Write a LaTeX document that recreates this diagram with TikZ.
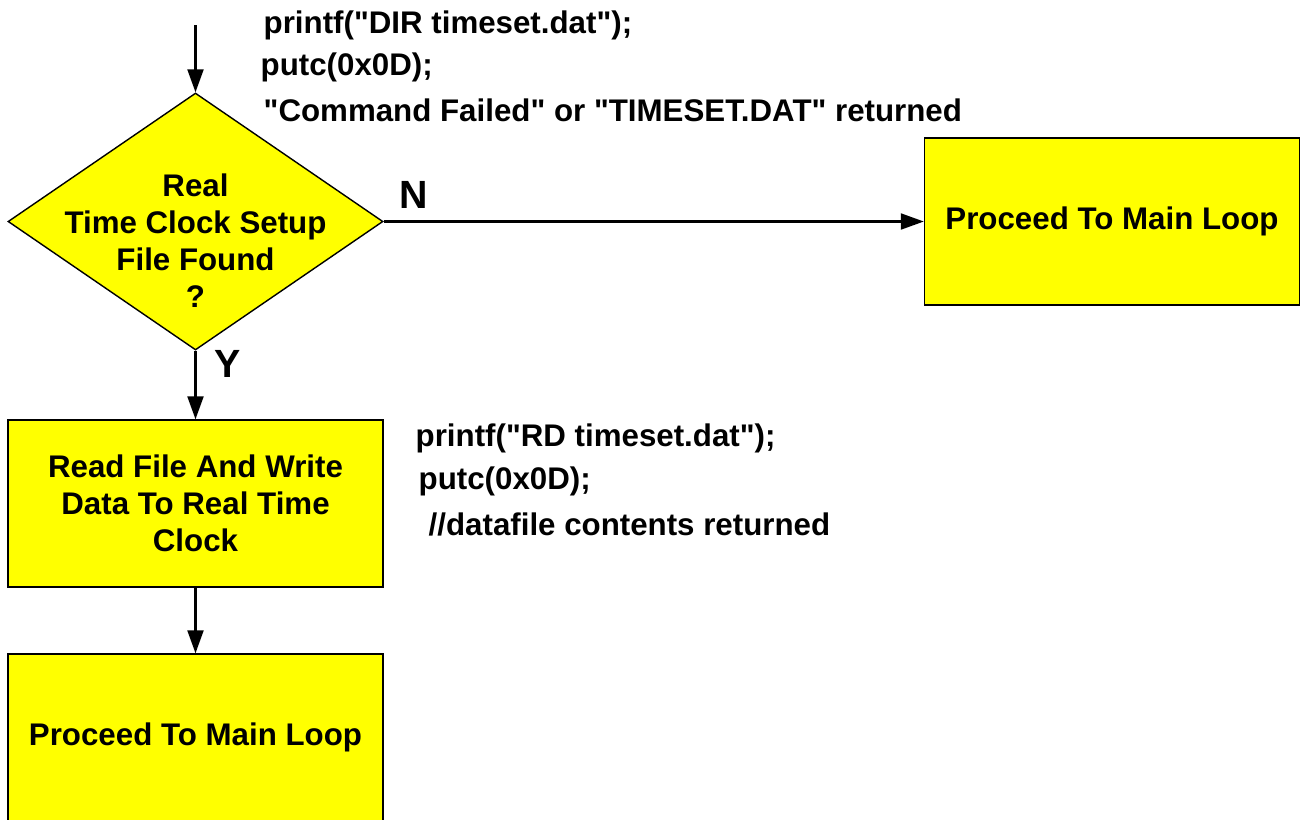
\documentclass[tikz,border=0pt]{standalone}
\usepackage{fontspec}
\newfontfamily\flowfont{Liberation Sans}
\usetikzlibrary{shapes.geometric}
\usetikzlibrary{arrows.meta}

\definecolor{flowyellow}{RGB}{255,255,0}

\tikzset{
  box/.style={draw, fill=flowyellow, minimum width=3.75cm, minimum height=1.67cm, align=center},
  decision/.style={draw, fill=flowyellow, diamond, minimum width=3.75cm, minimum height=2.57cm, inner sep=0pt},
  code/.style={anchor=west, inner sep=0pt},
  branch/.style={font=\flowfont\fontsize{11.2}{13}\selectfont\bfseries, inner sep=0pt},
  flow/.style={-{Triangle[length=2.3mm,width=1.6mm]}, line width=0.6pt},
}

\begin{document}
\begin{tikzpicture}[font=\flowfont\fontsize{8.9}{10.5}\selectfont\bfseries]
\useasboundingbox (0,0) rectangle (13.01,-8.19);

\coordinate (start) at (1.955,-0.25);
\node[decision] (found) at (1.955,-2.215) {};
\node[align=center] (foundtext) at (1.955,-2.41) {Real\\Time Clock Setup\\File Found\\?};

\node[box] (mainN) at (11.12,-2.215) {Proceed To Main Loop};
\node[box] (readfile) at (1.955,-5.035) {Read File And Write\\Data To Real Time\\Clock};
\node[box] (mainY) at (1.955,-7.375) {Proceed To Main Loop};

% Pfeile
\draw[flow] (start) -- (found.north);
\draw[flow] (found.east) -- (mainN.west) node[branch, pos=0.055, above=0.12cm] (labN) {N};
\draw[flow] (found.south) -- (readfile.north) node[branch, pos=0.2, right=0.18cm] (labY) {Y};
\draw[flow] (readfile.south) -- (mainY.north);

% Befehle
\node[code] (dircmd) at (2.63,-0.25) {printf("DIR timeset.dat");};
\node[code] (dirput) at (2.60,-0.67) {putc(0x0D);};
\node[code] (dirret) at (2.63,-1.10) {"Command Failed" or "TIMESET.DAT" returned};

\node[code] (rdcmd) at (4.15,-4.38) {printf("RD timeset.dat");};
\node[code] (rdput) at (4.18,-4.81) {putc(0x0D);};
\node[code] (rdret) at (4.28,-5.24) {//datafile contents returned};
\end{tikzpicture}
\end{document}
